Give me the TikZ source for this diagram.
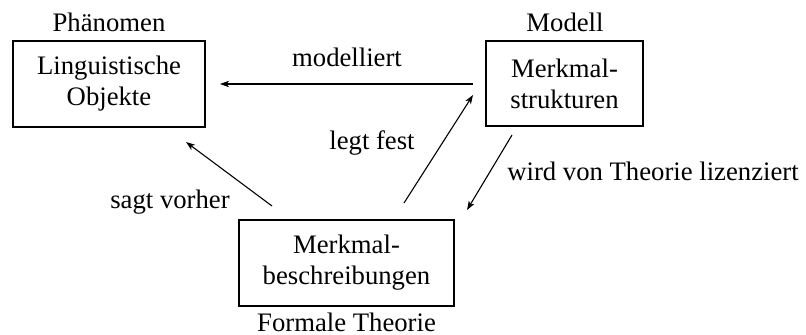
\documentclass[tikz,border=0pt]{standalone}
\usepackage{fontspec}
\setmainfont{Liberation Serif}
\usetikzlibrary{arrows.meta}
\begin{document}
\begin{tikzpicture}[x=0.5pt,y=-0.5pt,
  every node/.style={font=\fontsize{13.35}{15.5}\selectfont},
  box/.style={draw, line width=1.3pt, align=center, inner sep=0pt},
  conn/.style={line width=0.55pt, -{Stealth[length=4.5pt,width=3.2pt,inset=1.2pt]}},
  tag/.style={anchor=base, inner sep=0pt}]
\useasboundingbox (0,0) rectangle (806,335);

% the three boxes
\node[box, minimum width=96pt, minimum height=43pt] (obj) at (109,84)
  {Linguistische\\Objekte};
\node[box, minimum width=78.5pt, minimum height=42.5pt] (fs) at (564.5,83.5)
  {Merkmal-\\strukturen};
\node[box, minimum width=107.5pt, minimum height=43pt] (fd) at (346.5,263)
  {Merkmal-\\beschreibungen};

% captions of the boxes
\node[tag] (phen) at (109,32) {Phänomen};
\node[tag] (mod) at (565,31.5) {Modell};
\node[tag] (theo) at (346.5,331) {Formale Theorie};

% connector end points
\coordinate (m1) at (473,84);
\coordinate (m2) at (220,84);
\coordinate (l1) at (404,203);
\coordinate (l2) at (473,95);
\coordinate (s1) at (272,206);
\coordinate (s2) at (186,142);
\coordinate (w1) at (512,135);
\coordinate (w2) at (467,210);

\draw[conn] (m1) -- (m2);
\draw[conn] (l1) -- (l2);
\draw[conn] (s1) -- (s2);
\draw[conn] (w1) -- (w2);

% connector labels
\node[tag] (lm) at (347,67) {modelliert};
\node[tag] (ll) at (372,150) {legt fest};
\node[tag] (ls) at (170,209) {sagt vorher};
\node[tag] (lw) at (653,181) {wird von Theorie lizenziert};
\end{tikzpicture}
\end{document}
